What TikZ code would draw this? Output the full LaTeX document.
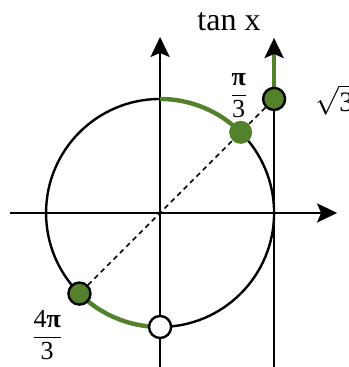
\documentclass[tikz,border=0pt]{standalone}
\usepackage{amsmath}
\usepackage{fontspec}
\setmainfont{Liberation Serif}
\usetikzlibrary{arrows.meta}
\definecolor{arcgreen}{RGB}{84,130,44}
\tikzset{
  axisline/.style={line width=1.2pt,-{Stealth[length=10pt,width=9.5pt,inset=2pt,color=black]}},
  dotgreen/.style={circle,draw=black,line width=1.2pt,fill=arcgreen,inner sep=0pt,minimum size=11pt},
  dotwhite/.style={circle,draw=black,line width=1.2pt,fill=white,inner sep=0pt,minimum size=11pt},
  dotplain/.style={circle,fill=arcgreen,inner sep=0pt,minimum size=11.5pt},
  greenarc/.style={arcgreen,line width=2.2pt},
  lbl/.style={font=\fontsize{13}{15}\selectfont}
}

\begin{document}
\begin{tikzpicture}[scale=2,>=Stealth]
  \useasboundingbox (-1.404,-1.351) rectangle (1.649,1.868);
  % axes and tangent line
  \coordinate (xl) at (-1.32,0);
  \coordinate (xr) at (1.553,0);
  \coordinate (yb) at (0,-1.36);
  \coordinate (yt) at (0,1.544);
  \coordinate (tb) at (1,-1.36);
  \coordinate (tt) at (1,1.535);
  \draw[axisline] (xl)--(xr);
  \draw[axisline] (yb)--(yt);
  \draw[line width=1.2pt] (tb)--(1,1);
  \draw[axisline,arcgreen,line width=1.6pt] (1,1)--(tt);
  \draw[line width=1.2pt] (0,0) circle (1);
  % arcs on the circle
  \draw[greenarc] (90:1) arc (90:45:1);
  \draw[greenarc] (225:1) arc (225:270:1);
  % points
  \node[dotplain] (p1) at (45:1) {};
  \node[dotgreen] (p4) at (225:1) {};
  \node[dotgreen] (t) at (1,1) {};
  \node[dotwhite] (b) at (270:1) {};
  \draw[line width=0.8pt,dash pattern=on 2.5pt off 2pt] (p4)--(p1)--(t);
  % labels
  \node[lbl,font=\fontsize{16}{18}\selectfont] (tanx) at (0.605,1.68) {tan x};
  \node[lbl] (l1) at (0.69,1.03) {$\dfrac{\text{\textbf{π}}}{\text{3}}$};
  \node[lbl,anchor=west,font=\fontsize{14}{16}\selectfont] (l2) at (1.30,0.99) {$\sqrt{\text{3}}$};
  \node[lbl] (l4) at (-0.99,-1.07) {$\dfrac{\text{4\textbf{π}}}{\text{3}}$};
\end{tikzpicture}
\end{document}
